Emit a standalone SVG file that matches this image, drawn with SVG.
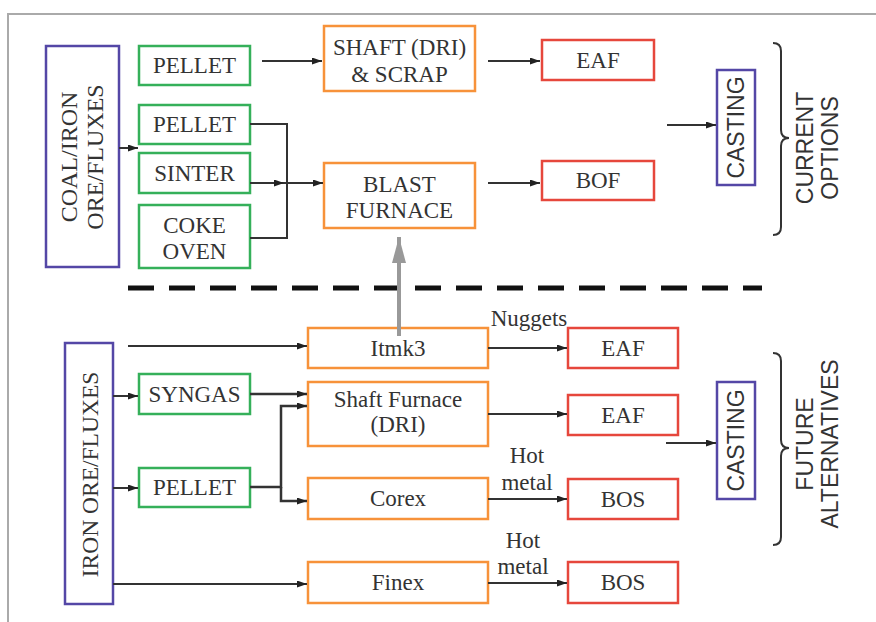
<svg xmlns="http://www.w3.org/2000/svg" width="876" height="622" viewBox="0 0 876 622">
<style>
.b{fill:#fff;stroke-width:2.5}
.g{stroke:#35b05a}.o{stroke:#f7923a}.r{stroke:#e6473c}.p{stroke:#5447a6}
.t{font-family:"Liberation Serif","Times New Roman",serif;font-size:23px;fill:#333;text-anchor:middle}
.s{font-family:"Liberation Sans",Arial,sans-serif;font-size:23px;fill:#333;text-anchor:middle}
.c{fill:none;stroke:#333;stroke-width:2}
</style>
<defs>
<marker id="ah" markerUnits="userSpaceOnUse" markerWidth="11" markerHeight="8" refX="10" refY="3.5" orient="auto"><path d="M0,0 L10,3.5 L0,7 z" fill="#222"/></marker>
<marker id="gh" markerUnits="userSpaceOnUse" markerWidth="27" markerHeight="15" refX="26" refY="7" orient="auto"><path d="M0,0 L26,7 L0,14 z" fill="#999"/></marker>
</defs>
<rect width="876" height="622" fill="#fff"/>
<path d="M8,622 V14 H876" fill="none" stroke="#aaa" stroke-width="2"/>

<g id="coal"><rect class="b p" x="46" y="46" width="73" height="221"/><text class="t" transform="translate(77,157) rotate(-90)" style="font-size:24px">COAL/IRON</text><text class="t" transform="translate(103,157) rotate(-90)" style="font-size:24px">ORE/FLUXES</text></g>
<g id="pellet1"><rect class="b g" x="139" y="46" width="111" height="39"/><text class="t" x="194.5" y="73">PELLET</text></g>
<g id="pellet2"><rect class="b g" x="139" y="105" width="111" height="39"/><text class="t" x="194.5" y="132">PELLET</text></g>
<g id="sinter"><rect class="b g" x="139" y="153" width="111" height="40"/><text class="t" x="194.5" y="181">SINTER</text></g>
<g id="coke"><rect class="b g" x="139" y="205" width="111" height="63"/><text class="t" x="194.5" y="233">COKE</text><text class="t" x="194.5" y="259">OVEN</text></g>
<g id="shaft"><rect class="b o" x="324" y="26" width="151" height="65"/><text class="t" x="399.5" y="55">SHAFT (DRI)</text><text class="t" x="399.5" y="82">&amp; SCRAP</text></g>
<g id="blast"><rect class="b o" x="324" y="163" width="151" height="65"/><text class="t" x="399.5" y="192">BLAST</text><text class="t" x="399.5" y="218">FURNACE</text></g>
<g id="eaf1"><rect class="b r" x="542" y="40" width="112" height="40"/><text class="t" x="598" y="68">EAF</text></g>
<g id="bof"><rect class="b r" x="542" y="161" width="112" height="39"/><text class="t" x="598" y="188">BOF</text></g>
<g id="casting1"><rect class="b p" x="717" y="70" width="38" height="115"/><text class="s" transform="translate(744,127.5) rotate(-90)">CASTING</text></g>
<g id="current"><path class="c" d="M773,43 Q781,43 781,51 V130 Q781,138 789,138 Q781,138 781,146 V227 Q781,235 773,235"/><text class="s" transform="translate(813,148) rotate(-90)">CURRENT</text><text class="s" transform="translate(838,148) rotate(-90)">OPTIONS</text></g>

<g id="iron"><rect class="b p" x="65" y="343" width="48" height="261"/><text class="t" transform="translate(98,474.5) rotate(-90)" style="font-size:23.5px">IRON ORE/FLUXES</text></g>
<g id="syngas"><rect class="b g" x="139" y="374" width="111" height="40"/><text class="t" x="194.5" y="402">SYNGAS</text></g>
<g id="pellet3"><rect class="b g" x="139" y="468" width="111" height="39"/><text class="t" x="194.5" y="495">PELLET</text></g>
<g id="itmk3"><rect class="b o" x="308" y="328" width="180" height="40"/><text class="t" x="398" y="356">Itmk3</text></g>
<g id="shaftf"><rect class="b o" x="308" y="382" width="180" height="64"/><text class="t" x="398" y="407">Shaft Furnace</text><text class="t" x="398" y="432">(DRI)</text></g>
<g id="corex"><rect class="b o" x="308" y="478" width="180" height="41"/><text class="t" x="398" y="506">Corex</text></g>
<g id="finex"><rect class="b o" x="308" y="562" width="180" height="41"/><text class="t" x="398" y="590">Finex</text></g>
<g id="eaf2"><rect class="b r" x="568" y="328" width="110" height="40"/><text class="t" x="623" y="356">EAF</text></g>
<g id="eaf3"><rect class="b r" x="568" y="395" width="110" height="40"/><text class="t" x="623" y="423">EAF</text></g>
<g id="bos1"><rect class="b r" x="568" y="479" width="110" height="40"/><text class="t" x="623" y="507">BOS</text></g>
<g id="bos2"><rect class="b r" x="568" y="562" width="110" height="41"/><text class="t" x="623" y="590">BOS</text></g>
<g id="casting2"><rect class="b p" x="717" y="382" width="38" height="117"/><text class="s" transform="translate(744,440.5) rotate(-90)">CASTING</text></g>
<g id="future"><path class="c" d="M773,353 Q781,353 781,361 V440 Q781,448 789,448 Q781,448 781,456 V537 Q781,545 773,545"/><text class="s" transform="translate(813,444) rotate(-90)">FUTURE</text><text class="s" transform="translate(838,444) rotate(-90)">ALTERNATIVES</text></g>

<g id="connectors">
<path class="c" d="M119,148 H138" marker-end="url(#ah)"/>
<path class="c" d="M262,61 H322" marker-end="url(#ah)"/>
<path class="c" d="M488,61 H540" marker-end="url(#ah)"/>
<path class="c" d="M250,124 H287 V238 H250"/>
<path class="c" d="M250,183 H284" marker-end="url(#ah)"/>
<path class="c" d="M284,183 H323" marker-end="url(#ah)"/>
<path class="c" d="M488,183 H540" marker-end="url(#ah)"/>
<path class="c" d="M667,125 H716" marker-end="url(#ah)"/>
<path d="M128,288 H762" fill="none" stroke="#111" stroke-width="5" stroke-dasharray="26 15"/>
<path d="M399,336 V237" fill="none" stroke="#999" stroke-width="4" marker-end="url(#gh)"/>
<path class="c" d="M128,346 H307" marker-end="url(#ah)"/>
<path class="c" d="M488,348 H567" marker-end="url(#ah)"/>
<text class="t" x="529" y="326">Nuggets</text>
<path class="c" d="M113,396 H138" marker-end="url(#ah)"/>
<path class="c" d="M250,394 H307" style="stroke-width:2.5" marker-end="url(#ah)"/>
<path class="c" d="M113,488 H138" marker-end="url(#ah)"/>
<path class="c" d="M250,487 H281 V406 H307" style="stroke-width:2.5" marker-end="url(#ah)"/>
<path class="c" d="M281,487 V501 H307" style="stroke-width:2.5" marker-end="url(#ah)"/>
<path class="c" d="M488,414 H567" marker-end="url(#ah)"/>
<path class="c" d="M488,499 H567" marker-end="url(#ah)"/>
<text class="t" x="527" y="463">Hot</text><text class="t" x="527" y="490">metal</text>
<path class="c" d="M113,584 H307" marker-end="url(#ah)"/>
<path class="c" d="M488,583 H567" marker-end="url(#ah)"/>
<text class="t" x="523" y="548">Hot</text><text class="t" x="523" y="574">metal</text>
<path class="c" d="M666,443 H716" marker-end="url(#ah)"/>
</g>
</svg>
